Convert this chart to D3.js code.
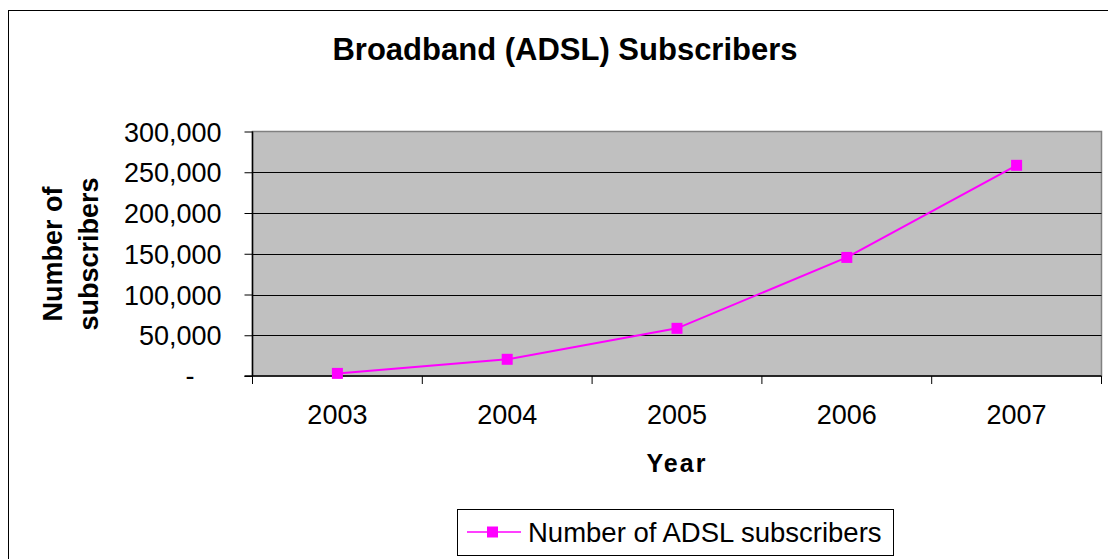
<!DOCTYPE html>
<html>
<head>
<meta charset="utf-8">
<script src="https://cdn.jsdelivr.net/npm/d3@7"></script>
<style>
html,body{margin:0;padding:0;background:#fff;}
svg{display:block;font-family:"Liberation Sans",Arial,sans-serif;}
</style>
</head>
<body>
<svg id="chart" width="1108" height="559"></svg>
<script>
const categories = ["2003", "2004", "2005", "2006", "2007"];
const subscribers = [3200, 20500, 58500, 145500, 258500];
const yTicks = [0, 50000, 100000, 150000, 200000, 250000, 300000];
const seriesName = "Number of ADSL subscribers";
const titleText = "Broadband (ADSL) Subscribers";
const xTitle = "Year";
const yTitleLines = ["Number of", "subscribers"];

const svg = d3.select("#chart");
const plot = {left: 252.5, right: 1101.5, top: 131.5, bottom: 376};

// outer frame
svg.append("rect").attr("x", 8.5).attr("y", 10.5).attr("width", 1120).attr("height", 580)
  .attr("fill", "#fff").attr("stroke", "#000").attr("stroke-width", 1);

const x = d3.scaleBand().domain(categories).range([plot.left, plot.right]).paddingInner(0).paddingOuter(0);
const y = d3.scaleLinear().domain([0, 300000]).range([plot.bottom, plot.top]);

// plot background
svg.append("rect").attr("x", plot.left).attr("y", plot.top)
  .attr("width", plot.right - plot.left).attr("height", plot.bottom - plot.top)
  .attr("fill", "#c0c0c0").attr("stroke", "#808080").attr("stroke-width", 1.5);

// gridlines
svg.append("g").selectAll("line").data(yTicks.filter(d => d > 0 && d < 300000)).join("line")
  .attr("x1", plot.left).attr("x2", plot.right)
  .attr("y1", d => Math.round(y(d)) + 0.5).attr("y2", d => Math.round(y(d)) + 0.5)
  .attr("stroke", "#000").attr("stroke-width", 1);

// y axis
const fmt = d3.format(",");
const yAxis = svg.append("g").attr("transform", `translate(${plot.left},0)`)
  .call(d3.axisLeft(y).tickValues(yTicks).tickSize(8).tickPadding(23)
    .tickFormat(d => d === 0 ? "-" : fmt(d)));
yAxis.select(".domain").attr("stroke", "#000").attr("stroke-width", 1.5).attr("d", `M0,${plot.top}V${plot.bottom}`);
yAxis.selectAll(".tick line").attr("stroke", "#000");
yAxis.selectAll(".tick text").attr("font-size", 27).attr("fill", "#000")
  .attr("font-family", "Liberation Sans, Arial, sans-serif")
  .attr("dy", "0.36em");
yAxis.selectAll(".tick text").filter(d => d === 0).attr("x", -58).attr("dy", "0.3em");

// x axis (ticks at category boundaries)
const xAxisG = svg.append("g");
xAxisG.append("line").attr("x1", plot.left - 8).attr("x2", plot.right)
  .attr("y1", plot.bottom).attr("y2", plot.bottom).attr("stroke", "#000").attr("stroke-width", 1.5);
const bounds = categories.map(c => x(c)).concat([x(categories[categories.length - 1]) + x.bandwidth()]);
xAxisG.selectAll("line.tk").data(bounds).join("line").attr("class", "tk")
  .attr("x1", d => d).attr("x2", d => d).attr("y1", plot.bottom).attr("y2", plot.bottom + 8)
  .attr("stroke", "#000").attr("stroke-width", 1);
xAxisG.selectAll("text").data(categories).join("text")
  .attr("x", d => x(d) + x.bandwidth() / 2).attr("y", 424)
  .attr("text-anchor", "middle").attr("font-size", 27).attr("fill", "#000").text(d => d);

// line + markers
const line = d3.line().x((d, i) => x(categories[i]) + x.bandwidth() / 2).y(d => y(d));
svg.append("path").datum(subscribers).attr("d", line)
  .attr("fill", "none").attr("stroke", "#ff00ff").attr("stroke-width", 2);
svg.append("g").selectAll("rect").data(subscribers).join("rect")
  .attr("x", (d, i) => x(categories[i]) + x.bandwidth() / 2 - 5.5)
  .attr("y", d => y(d) - 5.5).attr("width", 11).attr("height", 11)
  .attr("fill", "#ff00ff");

// title
svg.append("text").attr("x", 565).attr("y", 60).attr("text-anchor", "middle")
  .attr("font-size", 31).attr("font-weight", "bold").attr("fill", "#000").text(titleText);

// x title
svg.append("text").attr("x", (plot.left + plot.right) / 2).attr("y", 472).attr("text-anchor", "middle")
  .attr("font-size", 25).attr("font-weight", "bold").attr("letter-spacing", 2).attr("fill", "#000").text(xTitle);

// y title
const yt = svg.append("text").attr("transform", `translate(62,254) rotate(-90)`)
  .attr("text-anchor", "middle").attr("font-size", 27).attr("font-weight", "bold").attr("fill", "#000");
yTitleLines.forEach((t, i) => {
  yt.append("tspan").attr("x", 0).attr("y", i * 36).text(t);
});

// legend
const lg = svg.append("g");
lg.append("rect").attr("x", 457.5).attr("y", 509.5).attr("width", 436).attr("height", 46)
  .attr("fill", "#fff").attr("stroke", "#000").attr("stroke-width", 1);
lg.append("line").attr("x1", 467).attr("x2", 521).attr("y1", 532).attr("y2", 532)
  .attr("stroke", "#ff00ff").attr("stroke-width", 1.5);
lg.append("rect").attr("x", 487).attr("y", 526.5).attr("width", 11).attr("height", 11).attr("fill", "#ff00ff");
lg.append("text").attr("x", 528).attr("y", 542).attr("font-size", 27.5).attr("fill", "#000").text(seriesName);
</script>
</body>
</html>
